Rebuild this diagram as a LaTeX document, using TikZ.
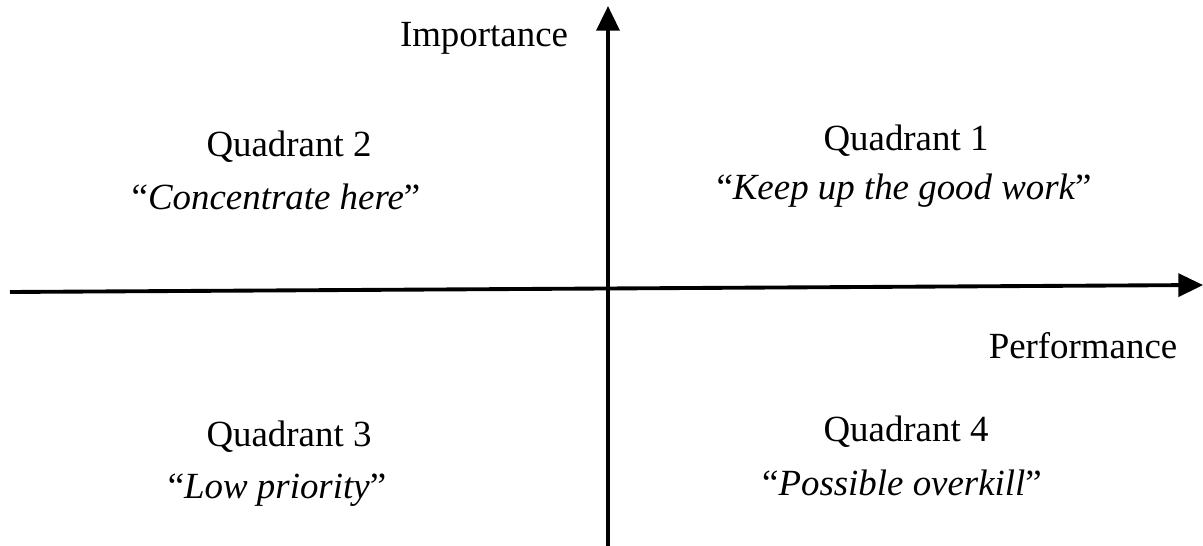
\documentclass[tikz,border=0pt]{standalone}
\usepackage{fontspec}
\setmainfont{Liberation Serif}
\usetikzlibrary{arrows.meta}
\begin{document}
\begin{tikzpicture}[x=0.02cm,y=-0.02cm,
  axis/.style={line width=2.2pt,-{Triangle[length=14pt,width=13pt]}},
  lbl/.style={font=\fontsize{21}{25}\selectfont,inner sep=0pt},
  quote/.style={font=\fontsize{21}{25}\selectfont\itshape,inner sep=0pt}]
\useasboundingbox (0,0) rectangle (1203,546);
\coordinate (vb) at (608,546);
\coordinate (vt) at (608,6);
\coordinate (hl) at (10,292);
\coordinate (hr) at (1203,285);
\draw[axis] (vb) -- (vt);
\draw[axis] (hl) -- (hr);
\node[lbl] (imp) at (484,38) {Importance};
\node[lbl] (perf) at (1083,346) {Performance};
\node[lbl] (q2) at (289,147) {Quadrant 2};
\node[quote] (q2t) at (276,197) {\upshape``\itshape Concentrate here\upshape''};
\node[lbl] (q1) at (906,141) {Quadrant 1};
\node[quote] (q1t) at (904,191) {\upshape``\itshape Keep up the good work\upshape''};
\node[lbl] (q3) at (289,437) {Quadrant 3};
\node[quote] (q3t) at (277,490) {\upshape``\itshape Low priority\upshape''};
\node[lbl] (q4) at (906,432) {Quadrant 4};
\node[quote] (q4t) at (902,483) {\upshape``\itshape Possible overkill\upshape''};
\end{tikzpicture}
\end{document}
